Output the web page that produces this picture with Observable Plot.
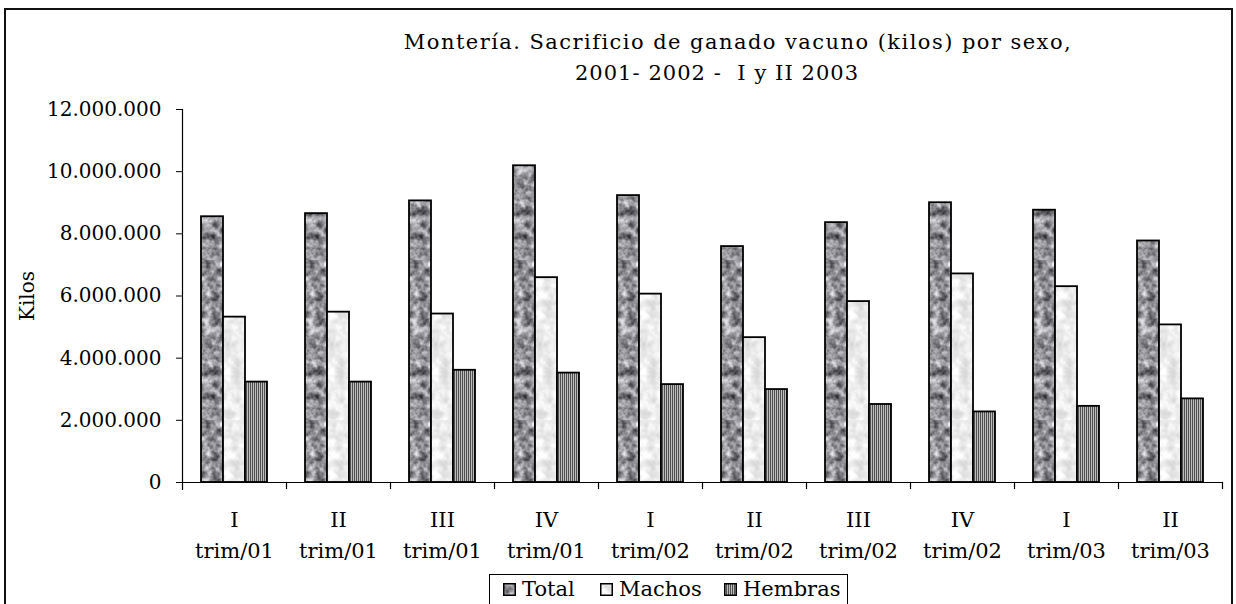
<!DOCTYPE html>
<html>
<head>
<meta charset="utf-8">
<script src="https://cdn.jsdelivr.net/npm/d3@7"></script>
<script src="https://cdn.jsdelivr.net/npm/@observablehq/plot@0.6"></script>
<style>
  html, body { margin: 0; padding: 0; background: #fff; }
  #page { position: relative; width: 1236px; height: 604px; overflow: hidden; background: #fff;
          font-family: "DejaVu Serif", "Liberation Serif", serif; color: #000; }
  #border { position: absolute; left: 4px; top: 8px; width: 1229px; height: 620px; border: 2px solid #111; box-sizing: border-box; }
  .title { position: absolute; width: 900px; text-align: center; font-size: 21px; line-height: 21px; white-space: pre; }
  #chart { position: absolute; left: 0; top: 100px; }
  #legend { position: absolute; left: 489px; top: 574px; width: 359px; height: 40px; border: 1px solid #000;
            box-sizing: border-box; font-size: 21px; }
  .item { position: absolute; top: 3px; display: flex; align-items: center; white-space: nowrap; line-height: 22px; }
  .item svg { margin-right: 6px; }
</style>
</head>
<body>
<div id="page">
  <div id="border"></div>
  <div class="title" id="t1" style="left:288px; top:32px; letter-spacing:1.45px;"></div>
  <div class="title" id="t2" style="left:267px; top:63px; letter-spacing:1.05px;"></div>
  <div id="chart"></div>
  <div id="legend"></div>
</div>
<script>
// ---- data ----
const titleLines = ["Montería. Sacrificio de ganado vacuno (kilos) por sexo,", "2001- 2002 -  I y II 2003"];
const categories = ["I\ntrim/01", "II\ntrim/01", "III\ntrim/01", "IV\ntrim/01",
                    "I\ntrim/02", "II\ntrim/02", "III\ntrim/02", "IV\ntrim/02",
                    "I\ntrim/03", "II\ntrim/03"];
const series = ["Total", "Machos", "Hembras"];
const total   = [8550000, 8650000, 9060000, 10190000, 9230000, 7590000, 8360000, 9000000, 8760000, 7770000];
const machos  = [5320000, 5480000, 5420000, 6590000, 6060000, 4660000, 5820000, 6710000, 6300000, 5070000];
const hembras = [3230000, 3230000, 3610000, 3520000, 3150000, 2990000, 2510000, 2270000, 2450000, 2690000];
const yTicks = [0, 2000000, 4000000, 6000000, 8000000, 10000000, 12000000];
const yLabel = "Kilos";

document.getElementById("t1").textContent = titleLines[0];
document.getElementById("t2").textContent = titleLines[1];

const valuesBySeries = {Total: total, Machos: machos, Hembras: hembras};
const data = [];
categories.forEach((c, i) => series.forEach(s => data.push({cat: c, series: s, value: valuesBySeries[s][i]})));

const fmt = d3.formatLocale({decimal: ",", thousands: ".", grouping: [3], currency: ["$", ""]}).format(",d");
const fills = ["url(#pTotal)", "url(#pMachos)", "url(#pHembras)"];

const W = 1236, H = 470, mt = 9, mb = 88, ml = 180, mr = 13;
const plotH = H - mt - mb;

const chart = Plot.plot({
  width: W, height: H,
  marginLeft: ml, marginRight: mr, marginTop: mt, marginBottom: mb,
  style: {fontFamily: "'DejaVu Serif', 'Liberation Serif', serif", fontSize: "20px", color: "#000", background: "transparent", overflow: "visible"},
  fx: {domain: categories, padding: 0, label: null},
  x: {domain: series, paddingInner: 0, paddingOuter: 0.77, axis: null},
  y: {domain: [0, 12000000], label: null},
  color: {domain: series, range: fills},
  marks: [
    Plot.axisY({ticks: yTicks, tickFormat: fmt, tickSize: 6, tickPadding: 15, fontSize: 20,
                label: yLabel, labelAnchor: "center", labelArrow: "none", labelOffset: 163}),
    Plot.axisFx({anchor: "bottom", tickSize: 0, tickPadding: 22, lineHeight: 1.5, fontSize: 21, label: null}),
    Plot.barY(data, {fx: "cat", x: "series", y: "value", fill: "series", stroke: "#000", strokeWidth: 1.8}),
    Plot.ruleY([0], {stroke: "#000", strokeWidth: 1.2}),
    Plot.frame({anchor: "right", insetTop: plotH, insetBottom: -6, stroke: "#000", strokeWidth: 1.2}),
    Plot.frame({anchor: "left", facet: "super", insetBottom: -7, stroke: "#000", strokeWidth: 1.2})
  ]
});

// ---- texture patterns ----
const ns = "http://www.w3.org/2000/svg";
const defs = document.createElementNS(ns, "defs");
defs.innerHTML = `
  <filter id="fTotal" x="0" y="0" width="1" height="1" color-interpolation-filters="sRGB">
    <feTurbulence type="fractalNoise" baseFrequency="0.12" numOctaves="3" seed="7" result="n"/>
    <feColorMatrix in="n" type="matrix" values="1.15 0 0 0 0.0  1.15 0 0 0 0.0  1.15 0 0 0 0.02  0 0 0 0 1"/>
  </filter>
  <filter id="fMachos" x="0" y="0" width="1" height="1" color-interpolation-filters="sRGB">
    <feTurbulence type="fractalNoise" baseFrequency="0.1" numOctaves="3" seed="3" result="n"/>
    <feColorMatrix in="n" type="matrix" values="0.3 0 0 0 0.78  0.3 0 0 0 0.78  0.3 0 0 0 0.78  0 0 0 0 1"/>
  </filter>
  <pattern id="pTotal" width="160" height="160" patternUnits="userSpaceOnUse">
    <rect width="160" height="160" fill="#999" filter="url(#fTotal)"/>
  </pattern>
  <pattern id="pMachos" width="160" height="160" patternUnits="userSpaceOnUse">
    <rect width="160" height="160" fill="#eee" filter="url(#fMachos)"/>
  </pattern>
  <pattern id="pHembras" width="2" height="10" patternUnits="userSpaceOnUse">
    <rect x="0" y="0" width="1" height="10" fill="#505050"/>
    <rect x="1" y="0" width="1" height="10" fill="#bcbcbc"/>
  </pattern>`;
chart.insertBefore(defs, chart.firstChild);
document.getElementById("chart").appendChild(chart);

// ---- legend ----
const legend = document.getElementById("legend");
const lx = [13, 110, 234];
series.forEach((s, i) => {
  const item = document.createElement("div");
  item.className = "item";
  item.style.left = lx[i] + "px";
  item.innerHTML = `<svg width="13" height="13"><rect x="0.75" y="0.75" width="11.5" height="11.5" fill="${fills[i]}" stroke="#000" stroke-width="1.5"/></svg><span></span>`;
  item.querySelector("span").textContent = s;
  legend.appendChild(item);
});
</script>
</body>
</html>
